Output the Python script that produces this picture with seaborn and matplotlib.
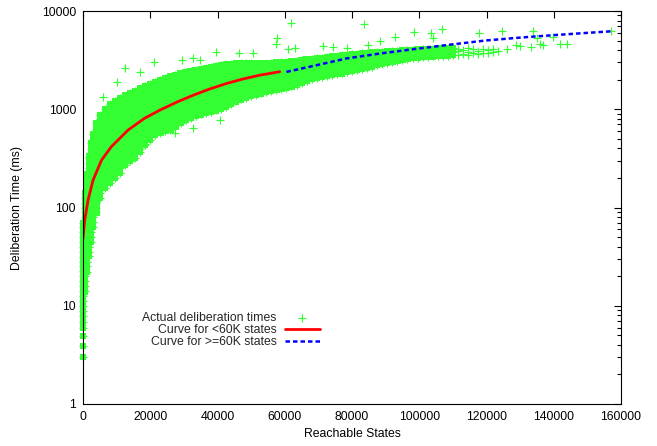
import matplotlib
matplotlib.use("Agg")
import matplotlib.pyplot as plt
import seaborn as sns
import pandas as pd
from matplotlib.ticker import LogLocator, NullFormatter, FixedLocator, FixedFormatter

# ---------------- data ----------------
# dense cloud: one column of observed deliberation times per state count
col_x = [0, 600, 1200, 1800, 2400, 3000, 4000, 5000, 6500, 8000, 9500, 11000,
         12500, 14000, 15500, 17000, 18500, 20000, 21500, 23000, 24500, 26000,
         27500, 29000, 30500, 32000, 33500, 35000, 36500, 38000, 39500, 41000,
         42500, 44000, 45500, 47000, 48500, 50000, 51500, 53000, 54500, 56000,
         57500, 59000, 60500, 62000, 63500, 65000, 66500, 68000, 69500, 71000,
         72500, 74000, 75500, 77000, 78500, 80000, 81500, 83000, 84500, 86000,
         87500, 89000, 90500, 92000, 93500, 95000, 96500, 98000, 99500, 101000,
         102500, 104000, 105500, 107000, 108500, 110000]
col_y = [
    [3.0, 3.9, 4.9, 5.9, 6.9, 7.9, 8.8, 10, 11.2, 12.6, 14.1, 15.8, 17.8, 20, 22.4, 25.1, 28.2, 31.6, 35.5, 39.8, 44.7, 50.1, 56.2, 63.1, 70],
    [14, 15.8, 17.8, 20, 22.4, 25.1, 28.2, 31.6, 35.5, 39.8, 44.7, 50.1, 56.2, 63.1, 70.8, 79.4, 89.1, 100, 112, 126, 140],
    [22, 25.1, 28.2, 31.6, 35.5, 39.8, 44.7, 50.1, 56.2, 63.1, 70.8, 79.4, 89.1, 100, 112, 126, 141, 158, 178, 200, 220],
    [32, 35.5, 39.8, 44.7, 50.1, 56.2, 63.1, 70.8, 79.4, 89.1, 100, 112, 126, 141, 158, 178, 200, 224, 251, 282, 316, 330],
    [45, 50.1, 56.2, 63.1, 70.8, 79.4, 89.1, 100, 112, 126, 141, 158, 178, 200, 224, 251, 282, 316, 355, 398, 450],
    [63, 70.8, 79.4, 89.1, 100, 112, 126, 141, 158, 178, 200, 224, 251, 282, 316, 355, 398, 447, 501, 560],
    [89, 100, 112, 126, 141, 158, 178, 200, 224, 251, 282, 316, 355, 398, 447, 501, 562, 631, 720],
    [126, 141, 158, 178, 200, 224, 251, 282, 316, 355, 398, 447, 501, 562, 631, 708, 794, 870],
    [158, 178, 200, 224, 251, 282, 316, 355, 398, 447, 501, 562, 631, 708, 794, 891, 1000],
    [178, 200, 224, 251, 282, 316, 355, 398, 447, 501, 562, 631, 708, 794, 891, 1000, 1130],
    [200, 224, 251, 282, 316, 355, 398, 447, 501, 562, 631, 708, 794, 891, 1000, 1122, 1200],
    [224, 251, 282, 316, 355, 398, 447, 501, 562, 631, 708, 794, 891, 1000, 1122, 1290],
    [270, 282, 316, 355, 398, 447, 501, 562, 631, 708, 794, 891, 1000, 1122, 1259, 1380],
    [300, 316, 355, 398, 447, 501, 562, 631, 708, 794, 891, 1000, 1122, 1259, 1450],
    [320, 355, 398, 447, 501, 562, 631, 708, 794, 891, 1000, 1122, 1259, 1413, 1530],
    [370, 398, 447, 501, 562, 631, 708, 794, 891, 1000, 1122, 1259, 1413, 1620],
    [430, 447, 501, 562, 631, 708, 794, 891, 1000, 1122, 1259, 1413, 1585, 1720],
    [490, 562, 631, 708, 794, 891, 1000, 1122, 1259, 1413, 1585, 1800],
    [550, 631, 708, 794, 891, 1000, 1122, 1259, 1413, 1585, 1778, 1900],
    [575, 631, 708, 794, 891, 1000, 1122, 1259, 1413, 1585, 1778, 1980],
    [600, 631, 708, 794, 891, 1000, 1122, 1259, 1413, 1585, 1778, 1995, 2060],
    [620, 708, 794, 891, 1000, 1122, 1259, 1413, 1585, 1778, 1995, 2150],
    [670, 708, 794, 891, 1000, 1122, 1259, 1413, 1585, 1778, 1995, 2230],
    [720, 794, 891, 1000, 1122, 1259, 1413, 1585, 1778, 1995, 2239, 2310],
    [775, 891, 1000, 1122, 1259, 1413, 1585, 1778, 1995, 2239, 2380],
    [810, 891, 1000, 1122, 1259, 1413, 1585, 1778, 1995, 2239, 2450],
    [855, 891, 1000, 1122, 1259, 1413, 1585, 1778, 1995, 2239, 2520],
    [885, 1000, 1122, 1259, 1413, 1585, 1778, 1995, 2239, 2580],
    [910, 1000, 1122, 1259, 1413, 1585, 1778, 1995, 2239, 2512, 2640],
    [945, 1000, 1122, 1259, 1413, 1585, 1778, 1995, 2239, 2512, 2700],
    [975, 1122, 1259, 1413, 1585, 1778, 1995, 2239, 2512, 2760],
    [1000, 1122, 1259, 1413, 1585, 1778, 1995, 2239, 2512, 2800],
    [1060, 1122, 1259, 1413, 1585, 1778, 1995, 2239, 2512, 2850],
    [1140, 1259, 1413, 1585, 1778, 1995, 2239, 2512, 2880],
    [1200, 1259, 1413, 1585, 1778, 1995, 2239, 2512, 2818, 2920],
    [1260, 1413, 1585, 1778, 1995, 2239, 2512, 2818, 2950],
    [1310, 1413, 1585, 1778, 1995, 2239, 2512, 2818, 2950],
    [1365, 1413, 1585, 1778, 1995, 2239, 2512, 2818, 2930],
    [1410, 1585, 1778, 1995, 2239, 2512, 2818, 2920],
    [1450, 1585, 1778, 1995, 2239, 2512, 2818, 2920],
    [1500, 1585, 1778, 1995, 2239, 2512, 2818, 2920],
    [1530, 1585, 1778, 1995, 2239, 2512, 2818, 2950],
    [1570, 1778, 1995, 2239, 2512, 2818, 2980],
    [1610, 1778, 1995, 2239, 2512, 2818, 3000],
    [1650, 1778, 1995, 2239, 2512, 2818, 3030],
    [1710, 1778, 1995, 2239, 2512, 2818, 3060],
    [1780, 1995, 2239, 2512, 2818, 3100],
    [1850, 1995, 2239, 2512, 2818, 3140],
    [1950, 2239, 2512, 2818, 3200],
    [2030, 2239, 2512, 2818, 3250],
    [2100, 2239, 2512, 2818, 3162, 3300],
    [2150, 2239, 2512, 2818, 3162, 3340],
    [2190, 2512, 2818, 3162, 3390],
    [2220, 2512, 2818, 3162, 3430],
    [2270, 2512, 2818, 3162, 3480],
    [2320, 2512, 2818, 3162, 3530],
    [2400, 2512, 2818, 3162, 3580],
    [2450, 2818, 3162, 3640],
    [2500, 2818, 3162, 3548, 3670],
    [2560, 2818, 3162, 3548, 3710],
    [2620, 2818, 3162, 3548, 3750],
    [2700, 2818, 3162, 3548, 3780],
    [2800, 3162, 3548, 3810],
    [2880, 3162, 3548, 3840],
    [2950, 3162, 3548, 3870],
    [3030, 3162, 3548, 3900],
    [3100, 3548, 3930],
    [3170, 3548, 3950],
    [3240, 3548, 3980],
    [3300, 3548, 4010],
    [3350, 3700, 4050],
    [3400, 3720, 4080],
    [3420, 3750, 4100],
    [3450, 3780, 4120],
    [3480, 3800, 4140],
    [3500, 3820, 4160],
    [3520, 3840, 4180],
    [3540, 3860, 4200],
]

# isolated points (outliers and the thin tail of the cloud)
outlier_x = [6000, 10000, 12500, 16900, 21100, 29300, 32800, 34800, 39700, 46500,
             50600, 57300, 57800, 61000, 62000, 63000, 71400, 74400, 78400, 83500,
             84800, 88300, 92700, 98500, 103600, 104200, 106800, 117700, 124600,
             126000, 128900, 130000, 133100, 133700, 135000, 135800, 136900,
             139800, 141800, 143800, 157100, 27300, 32800, 40700,
             111500, 111500, 111500, 113000, 113000, 114500, 114500, 114500,
             116000, 116000, 117500, 117500, 119000, 119000, 120500, 120500,
             122000, 122000, 123500]
outlier_y = [1340, 1900, 2600, 2400, 3000, 3160, 3300, 3200, 3870, 3750,
             3750, 4600, 5370, 4150, 7600, 4160, 4440, 4350, 4250, 7350,
             4520, 4900, 5450, 6050, 5980, 5280, 6500, 5990, 6270,
             4150, 4520, 4400, 4330, 6230, 5280, 4620, 4500,
             5450, 4620, 4620, 6200, 570, 640, 780,
             3600, 3900, 4150, 3650, 4000, 3600, 3850, 4200,
             3700, 4100, 3650, 3950, 3750, 4150, 3700, 4000,
             3850, 4100, 3900]

# fitted curves
fit_low_x = [0, 500, 1500, 3000, 5500, 8400, 13400, 18300, 23000, 28200,
             32800, 37500, 42700, 47500, 52600, 58500]
fit_low_y = [48, 74, 119, 190, 303, 415, 614, 809, 985, 1195,
             1390, 1600, 1830, 2030, 2223, 2410]
fit_high_x = [60500, 68500, 78400, 88300, 98200, 110000, 120000, 130000,
              140000, 150000, 157500]
fit_high_y = [2400, 2760, 3290, 3690, 4085, 4580, 5020, 5360, 5680, 5990, 6230]

x_ticks = [0, 20000, 40000, 60000, 80000, 100000, 120000, 140000, 160000]
y_ticks = [1, 10, 100, 1000, 10000]

labels = ["Actual deliberation times", "Curve for <60K states",
          "Curve for >=60K states"]

# ---------------- styling ----------------
sns.set_style("white")
plt.rcParams["font.family"] = ["Liberation Sans", "DejaVu Sans"]
FS = 8.8
GREEN = "#33ff33"

core = pd.DataFrame({
    "states": [x for x, ys in zip(col_x, col_y) for _ in ys],
    "ms": [y for ys in col_y for y in ys],
})
extra = pd.DataFrame({"states": outlier_x, "ms": outlier_y})
allpts = pd.concat([core, extra], ignore_index=True)

fig = plt.figure(figsize=(6.57, 4.46), dpi=100)
ax = fig.add_axes([83 / 657, 1 - 404 / 446, (621 - 83) / 657, (404 - 11) / 446])

# solid body of the dense cloud
sns.scatterplot(data=core, x="states", y="ms", marker="s", s=21,
                color=GREEN, edgecolor="none", linewidth=0, ax=ax,
                zorder=2, legend=False, clip_on=False)
# the '+' marks of every observation
sns.scatterplot(data=allpts, x="states", y="ms", marker="+", s=28,
                color=GREEN, edgecolor=GREEN, linewidth=0.85, ax=ax,
                zorder=3, legend=False, clip_on=False, label=labels[0])

sns.lineplot(x=fit_low_x, y=fit_low_y, color="#ff0000", linewidth=2.0,
             ax=ax, zorder=4, label=labels[1], legend=False, sort=False,
             estimator=None)
sns.lineplot(x=fit_high_x, y=fit_high_y, color="#0000ff", linewidth=1.8,
             linestyle=(0, (1.8, 1.2)), ax=ax, zorder=4, label=labels[2],
             legend=False, sort=False, estimator=None)

ax.set_yscale("log")
ax.set_xlim(0, 160000)
ax.set_ylim(1, 10000)
ax.xaxis.set_major_locator(FixedLocator(x_ticks))
ax.xaxis.set_major_formatter(FixedFormatter([str(t) for t in x_ticks]))
ax.yaxis.set_major_locator(FixedLocator(y_ticks))
ax.yaxis.set_major_formatter(FixedFormatter([str(t) for t in y_ticks]))
ax.yaxis.set_minor_locator(LogLocator(base=10, subs=range(2, 10)))
ax.yaxis.set_minor_formatter(NullFormatter())

ax.tick_params(which="both", direction="in", top=True, right=True,
               colors="black", labelcolor="black", labelsize=FS, width=0.8)
ax.tick_params(which="major", length=5, pad=5)
ax.tick_params(which="minor", length=3)
for sp in ax.spines.values():
    sp.set_color("black")
    sp.set_linewidth(0.8)
    sp.set_zorder(5)

ax.set_xlabel("Reachable States", fontsize=FS, color="black")
ax.set_ylabel("Deliberation Time (ms)", fontsize=FS, color="black")
ax.xaxis.set_label_coords(0.5, (404 - 428) / 393)
ax.yaxis.set_label_coords((23 - 83) / 538, 0.5)

h, l = ax.get_legend_handles_labels()
order = [l.index(t) for t in labels]
leg = ax.legend([h[i] for i in order], [l[i] for i in order],
                loc="center right", bbox_to_anchor=((320 - 83) / 538, (404 - 330) / 393),
                markerfirst=False, frameon=False, fontsize=FS, borderpad=0,
                borderaxespad=0, labelspacing=0.0, handlelength=2.9,
                handletextpad=0.65)
leg.set_zorder(6)

fig.savefig("out.png", dpi=100)
